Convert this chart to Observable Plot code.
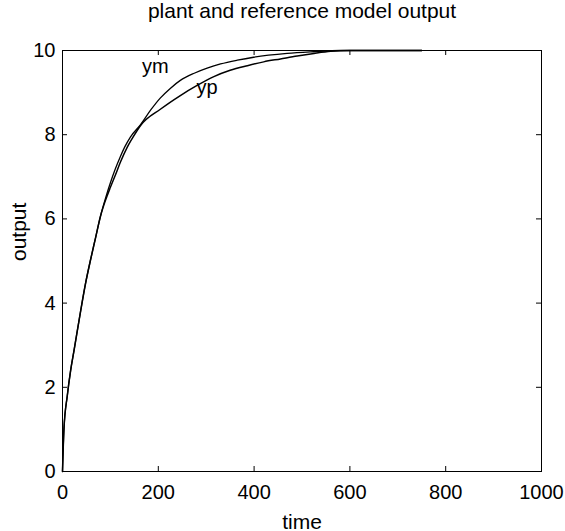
<!DOCTYPE html>
<html>
<head>
<meta charset="utf-8">
<script src="https://cdn.jsdelivr.net/npm/d3@7"></script>
<script src="https://cdn.jsdelivr.net/npm/@observablehq/plot@0.6"></script>
<style>
  html, body { margin: 0; padding: 0; background: #fff; }
</style>
</head>
<body>
<div id="chart"></div>
<script>
// Data
const timeYm = [0, 3, 10, 17, 24, 38, 48, 58, 69, 79, 90, 100, 110, 120, 130, 142, 163, 185, 204, 225, 246, 275, 302, 330, 365, 399, 469, 524, 580, 650, 750];
const ymValues = [0, 1.0, 1.8, 2.4, 2.87, 3.82, 4.46, 5.0, 5.55, 6.05, 6.5, 6.86, 7.18, 7.46, 7.71, 7.95, 8.24, 8.6, 8.87, 9.1, 9.29, 9.46, 9.58, 9.68, 9.77, 9.84, 9.93, 9.97, 10.0, 10.0, 10.0];
const timeYp = [0, 3, 10, 17, 24, 38, 48, 58, 69, 79, 90, 100, 110, 121, 135, 145, 163, 205, 246, 281, 316, 350, 386, 420, 455, 490, 525, 560, 600, 680, 750];
const ypValues = [0, 1.0, 1.8, 2.4, 2.87, 3.82, 4.46, 5.0, 5.55, 6.05, 6.45, 6.75, 7.03, 7.35, 7.70, 7.90, 8.22, 8.61, 8.93, 9.17, 9.38, 9.53, 9.64, 9.73, 9.80, 9.87, 9.93, 9.98, 10.0, 10.0, 10.0];
const xTicks = [0, 200, 400, 600, 800, 1000];
const yTicks = [0, 2, 4, 6, 8, 10];
const seriesLabels = [
  {name: "ym", t: 194, v: 9.62},
  {name: "yp", t: 302, v: 9.11}
];
const titleText = "plant and reference model output";
const xLabel = "time";
const yLabel = "output";

const ym = timeYm.map((t, i) => ({t, v: ymValues[i]}));
const yp = timeYp.map((t, i) => ({t, v: ypValues[i]}));

const W = 565, H = 531;
const mL = 62, mR = 24, mT = 50, mB = 60;
const fw = W - mL - mR, fh = H - mT - mB;
const tick = 5;

const chart = Plot.plot({
  width: W,
  height: H,
  marginLeft: mL,
  marginRight: mR,
  marginTop: mT,
  marginBottom: mB,
  style: {fontFamily: "'Liberation Sans', Arial, sans-serif", background: "#fff", color: "#000"},
  x: {domain: [0, 1000]},
  y: {domain: [0, 10]},
  marks: [
    Plot.frame({stroke: "#000", strokeWidth: 1}),
    Plot.axisX(xTicks, {tickSize: 0, tickPadding: 13, fontSize: 20, label: null, tickFormat: d => String(d)}),
    Plot.axisY(yTicks, {tickSize: 0, tickPadding: 7, fontSize: 20, label: null, tickFormat: d => String(d)}),
    // inward ticks on all four sides
    Plot.tickX(xTicks.slice(1, -1), {x: d => d, insetTop: fh - tick, stroke: "#000"}),
    Plot.tickX(xTicks.slice(1, -1), {x: d => d, insetBottom: fh - tick, stroke: "#000"}),
    Plot.tickY(yTicks.slice(1, -1), {y: d => d, insetRight: fw - tick, stroke: "#000"}),
    Plot.tickY(yTicks.slice(1, -1), {y: d => d, insetLeft: fw - tick, stroke: "#000"}),
    Plot.line(ym, {x: "t", y: "v", stroke: "#000", strokeWidth: 1.3, curve: "monotone-x"}),
    Plot.line(yp, {x: "t", y: "v", stroke: "#000", strokeWidth: 1.5, curve: "monotone-x"}),
    Plot.text(seriesLabels, {x: "t", y: "v", text: "name", fontSize: 20, fill: "#000"}),
    Plot.text([titleText], {frameAnchor: "top", lineAnchor: "bottom", dy: -33, fontSize: 21, fill: "#000"}),
    Plot.text([xLabel], {frameAnchor: "bottom", lineAnchor: "bottom", dy: 57, fontSize: 21, fill: "#000"}),
    Plot.text([yLabel], {frameAnchor: "left", lineAnchor: "bottom", rotate: -90, dx: -37, fontSize: 21, fill: "#000"})
  ]
});
document.getElementById("chart").appendChild(chart);
</script>
</body>
</html>
